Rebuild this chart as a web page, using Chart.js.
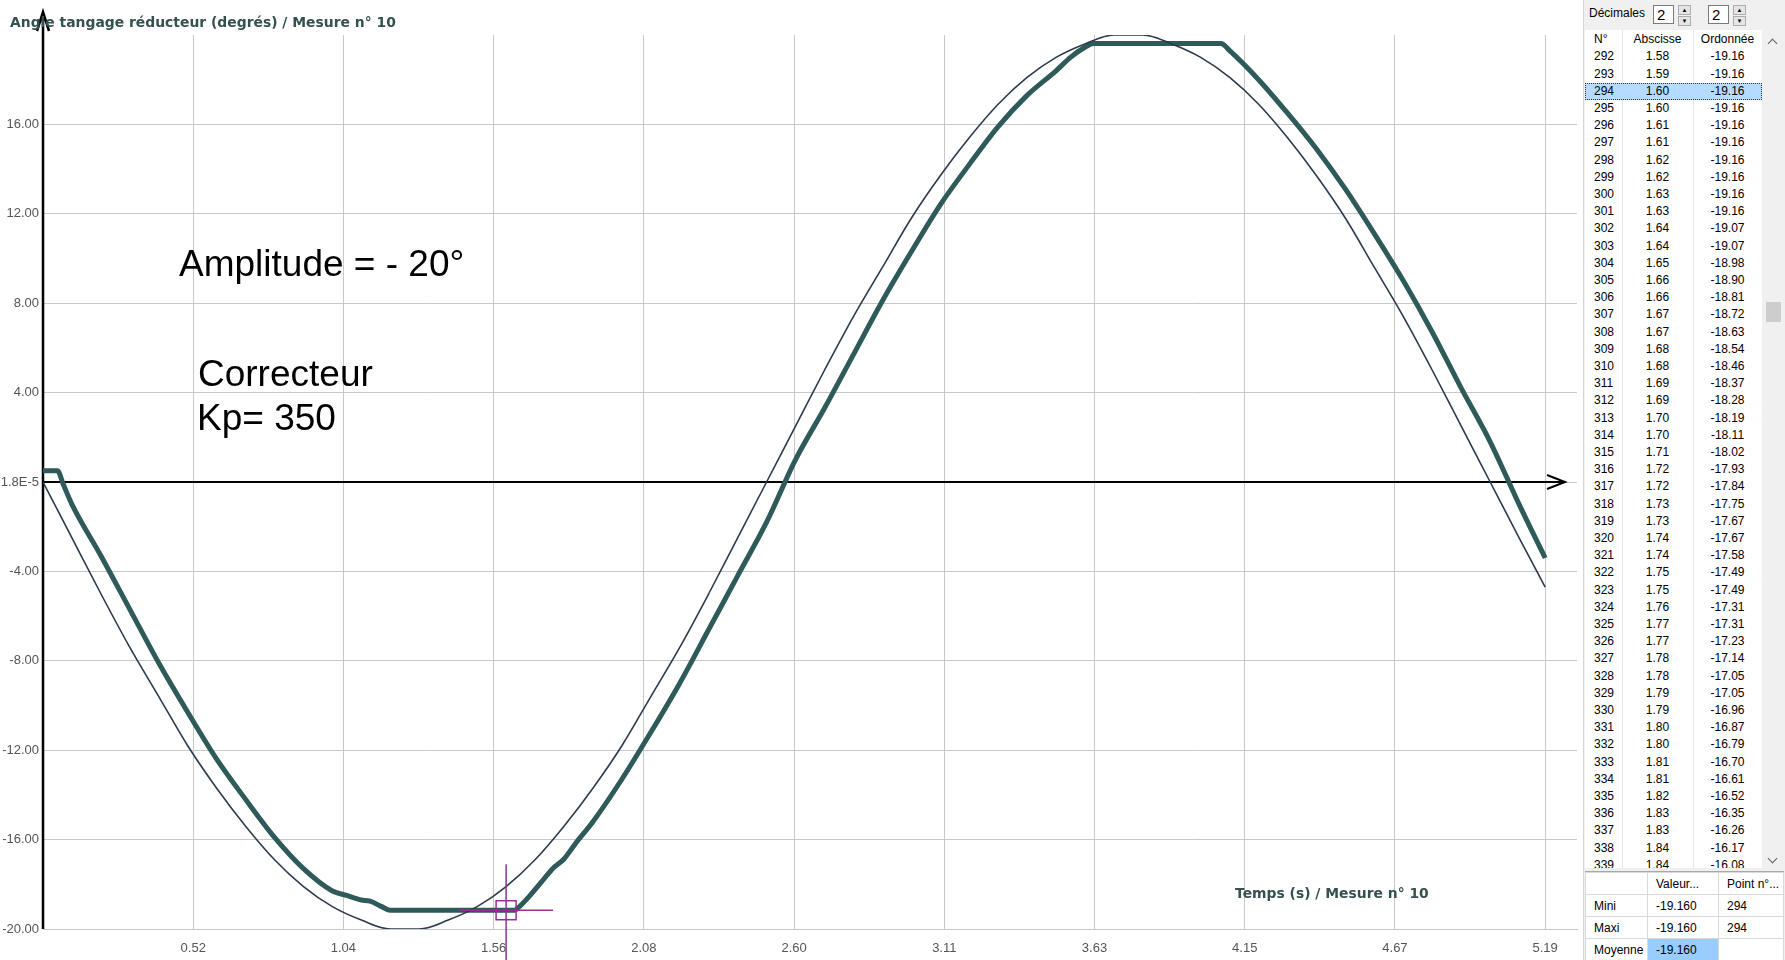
<!DOCTYPE html>
<html>
<head>
<meta charset="utf-8">
<script src="https://cdn.jsdelivr.net/npm/chart.js@4.4.1/dist/chart.umd.min.js"></script>
<style>
  body { margin: 0; background: #fff; overflow: hidden; }
  #wrap { position: relative; width: 1785px; height: 960px; }
  #courbe { position: absolute; left: 0; top: 0; }
  .txt { position: absolute; white-space: nowrap; }
  .titre { font: bold 13.9px "DejaVu Sans", sans-serif; color: #34504f; line-height: 18px; }
  .note { font: 37px "Liberation Sans", Arial, sans-serif; color: #000; line-height: 37px; }

  #panneau { position: absolute; left: 1583px; top: 0; width: 202px; height: 960px; background: #f0f0f0;
    border-left: 1px solid #d6d6d6; box-sizing: border-box;
    font-family: "Liberation Sans", Arial, sans-serif; font-size: 12px; color: #000; }
  .abs { position: absolute; }
  .spin { position: absolute; top: 5px; width: 21px; height: 19px; background: #fff; border: 1px solid #7a7a7a;
    box-sizing: border-box; font-size: 15px; line-height: 17px; padding-left: 3px; }
  .fleches { position: absolute; top: 5px; width: 13px; height: 19px; }
  .fleches div { height: 8px; margin-bottom: 1px; background: #e5e5e5; border: 1px solid #adadad;
    font-size: 6px; line-height: 8px; text-align: center; color: #000; }
  #liste { position: absolute; left: 1px; top: 30px; width: 198px; height: 838px; background: #fff; overflow: hidden; }
  .sep { position: absolute; top: 0; width: 1px; height: 838px; background: #e6e6e6; }
  .ligne { position: absolute; left: 0; width: 177px; height: 17.2px; line-height: 17.2px; }
  .ligne span { position: absolute; top: 0; }
  .cN { left: 9px; }
  .cX { left: 37px; width: 71px; text-align: center; }
  .cY { left: 108px; width: 69px; text-align: center; }
  .choisi { background: #b5dcff; outline: 1px dotted #333; outline-offset: -1px; }
  #ascenseur { position: absolute; left: 177px; top: 0; width: 21px; height: 838px; background: #f0f0f0; }
  .chevron { position: absolute; width: 6px; height: 6px; border-left: 1.5px solid #606060; border-top: 1.5px solid #606060; }
  #stats { position: absolute; left: 1px; top: 871px; width: 199px; height: 89px; background: #fff; border-top: 1px solid #a8a8a8; }
  #stats table { border-collapse: collapse; width: 199px; }
  #stats td { border: 1px solid #dadada; height: 21px; padding: 0 0 0 8px; white-space: nowrap; }
  #stats .bleu { background: #99ccff; }
</style>
</head>
<body>
<div id="wrap">
  <canvas id="courbe" width="1583" height="960"></canvas>

  <div class="txt titre" style="left:10px; top:13px;">Angle tangage réducteur (degrés) / Mesure n° 10</div>
  <div class="txt titre" style="left:1235px; top:884px;">Temps (s) / Mesure n° 10</div>
  <div class="txt note" style="left:179px; top:245px;">Amplitude = - 20°</div>
  <div class="txt note" style="left:198px; top:355px;">Correcteur</div>
  <div class="txt note" style="left:197px; top:399px;">Kp= 350</div>

  <div id="panneau">
    <div class="abs" style="left:5px; top:5px; line-height:16px;">Décimales</div>
    <div class="spin" style="left:69px;">2</div>
    <div class="fleches" style="left:94px;"><div>▲</div><div>▼</div></div>
    <div class="spin" style="left:124px;">2</div>
    <div class="fleches" style="left:149px;"><div>▲</div><div>▼</div></div>

    <div id="liste">
      <div class="sep" style="left:37px;"></div>
      <div class="sep" style="left:108px;"></div>
      <div class="ligne" style="top:1px;"><span class="cN">N°</span><span class="cX">Abscisse</span><span class="cY">Ordonnée</span></div>
      <div id="lignes"></div>
      <div id="ascenseur">
        <div class="chevron" style="left:7px; top:10px; transform:rotate(45deg);"></div>
        <div class="abs" style="left:4px; top:272px; width:15px; height:20px; background:#cdcdcd;"></div>
        <div class="chevron" style="left:7px; top:825px; transform:rotate(225deg);"></div>
      </div>
    </div>

    <div id="stats">
      <table>
        <tr><td style="width:53px;"></td><td style="width:62px;">Valeur...</td><td>Point n°...</td></tr>
        <tr><td>Mini</td><td>-19.160</td><td>294</td></tr>
        <tr><td>Maxi</td><td>-19.160</td><td>294</td></tr>
        <tr><td>Moyenne</td><td class="bleu">-19.160</td><td></td></tr>
      </table>
    </div>
  </div>
</div>

<script>
// consigne (courbe fine) : temps (s) et angle (degres)
const tConsigne = [0, 0.1, 0.2, 0.3, 0.4, 0.5, 0.6, 0.7, 0.8, 0.9, 1.0, 1.1, 1.2, 1.3, 1.4, 1.5, 1.6, 1.7, 1.8, 1.9,
  2.0, 2.1, 2.2, 2.3, 2.4, 2.5, 2.6, 2.7, 2.8, 2.9, 3.0, 3.1, 3.2, 3.3, 3.4, 3.5, 3.6, 3.7, 3.8, 3.9,
  4.0, 4.1, 4.2, 4.3, 4.4, 4.5, 4.6, 4.7, 4.8, 4.9, 5.0, 5.1, 5.19];
const angleConsigne = [0.0, -2.5, -5.0, -7.4, -9.6, -11.8, -13.7, -15.4, -16.9, -18.1, -19.0, -19.6, -20.0, -20.0,
  -19.6, -19.0, -18.1, -16.9, -15.4, -13.7, -11.8, -9.6, -7.4, -5.0, -2.5, 0.0, 2.5, 5.0, 7.4, 9.6,
  11.8, 13.7, 15.4, 16.9, 18.1, 19.0, 19.6, 20.0, 20.0, 19.6, 19.0, 18.1, 16.9, 15.4, 13.7, 11.8,
  9.6, 7.4, 5.0, 2.5, 0.0, -2.5, -4.7];

// mesure n° 10 (courbe epaisse)
const tMesure = [0, 0.05, 0.07, 0.1, 0.2, 0.3, 0.4, 0.5, 0.6, 0.7, 0.8, 0.9, 1.0, 1.05, 1.1, 1.13, 1.17, 1.2,
  1.4, 1.63, 1.64, 1.68, 1.72, 1.76, 1.80, 1.84, 1.9, 2.0, 2.1, 2.2, 2.3, 2.4, 2.5, 2.6, 2.7, 2.8, 2.9,
  3.0, 3.1, 3.2, 3.3, 3.4, 3.5, 3.55, 3.6, 3.63, 3.85, 4.07, 4.1, 4.2, 4.3, 4.4, 4.5, 4.6, 4.7, 4.8,
  4.9, 5.0, 5.1, 5.19];
const angleMesure = [0.5, 0.5, -0.1, -1.0, -3.3, -5.7, -8.1, -10.3, -12.4, -14.2, -15.9, -17.3, -18.3, -18.5,
  -18.7, -18.75, -19.0, -19.16, -19.16, -19.16, -19.07, -18.54, -17.93, -17.31, -16.87, -16.17, -15.2,
  -13.3, -11.2, -9.0, -6.6, -4.2, -1.8, 1.0, 3.3, 5.7, 8.1, 10.3, 12.4, 14.2, 15.9, 17.3, 18.4, 19.0,
  19.45, 19.62, 19.62, 19.62, 19.3, 18.0, 16.5, 14.9, 13.1, 11.1, 9.0, 6.7, 4.2, 1.8, -1.0, -3.4];

const xTicks = [0.519, 1.038, 1.557, 2.076, 2.595, 3.114, 3.633, 4.152, 4.671, 5.19];
const xTickLabels = ['0.52', '1.04', '1.56', '2.08', '2.60', '3.11', '3.63', '4.15', '4.67', '5.19'];
const yTicks = [-20, -16, -12, -8, -4, 0, 4, 8, 12, 16];
const yTickLabels = ['-20.00', '-16.00', '-12.00', '-8.00', '-4.00', '1.8E-5', '4.00', '8.00', '12.00', '16.00'];

// curseur (point n° 294)
const curseur = [1.60, -19.16];

// tableau de droite
const premierPoint = 292;
const pointChoisi = 294;
const tabAbscisse = [1.58, 1.59, 1.60, 1.60, 1.61, 1.61, 1.62, 1.62, 1.63, 1.63, 1.64, 1.64, 1.65, 1.66, 1.66, 1.67,
  1.67, 1.68, 1.68, 1.69, 1.69, 1.70, 1.70, 1.71, 1.72, 1.72, 1.73, 1.73, 1.74, 1.74, 1.75, 1.75, 1.76,
  1.77, 1.77, 1.78, 1.78, 1.79, 1.79, 1.80, 1.80, 1.81, 1.81, 1.82, 1.83, 1.83, 1.84, 1.84];
const tabOrdonnee = [-19.16, -19.16, -19.16, -19.16, -19.16, -19.16, -19.16, -19.16, -19.16, -19.16, -19.07, -19.07,
  -18.98, -18.90, -18.81, -18.72, -18.63, -18.54, -18.46, -18.37, -18.28, -18.19, -18.11, -18.02, -17.93,
  -17.84, -17.75, -17.67, -17.67, -17.58, -17.49, -17.49, -17.31, -17.31, -17.23, -17.14, -17.05, -17.05,
  -16.96, -16.87, -16.79, -16.70, -16.61, -16.52, -16.35, -16.26, -16.17, -16.08];

let html = '';
tabAbscisse.forEach((x, i) => {
  const n = premierPoint + i;
  html += '<div class="ligne' + (n === pointChoisi ? ' choisi' : '') + '" style="top:' + (18.4 + 17.2 * i) + 'px;">' +
    '<span class="cN">' + n + '</span><span class="cX">' + x.toFixed(2) + '</span>' +
    '<span class="cY">' + tabOrdonnee[i].toFixed(2) + '</span></div>';
});
document.getElementById('lignes').innerHTML = html;

const tickFont = { family: '"Liberation Sans", Arial, sans-serif', size: 13 };

// fleches des axes, dessinees sous les courbes
const flechesAxes = {
  id: 'flechesAxes',
  beforeDatasetsDraw(chart) {
    const { ctx, chartArea: a, scales: { x, y } } = chart;
    const x0 = x.getPixelForValue(0);
    const y0 = y.getPixelForValue(0);
    ctx.save();
    ctx.strokeStyle = '#000';
    ctx.lineWidth = 2;
    ctx.beginPath();
    ctx.moveTo(x0, y0);
    ctx.lineTo(a.right - 12, y0);
    ctx.moveTo(a.right - 30, y0 - 7);
    ctx.lineTo(a.right - 12, y0);
    ctx.lineTo(a.right - 30, y0 + 7);
    ctx.stroke();
    ctx.lineWidth = 2.5;
    ctx.beginPath();
    ctx.moveTo(x0, a.bottom);
    ctx.lineTo(x0, a.top - 23);
    ctx.moveTo(x0 - 6, a.top - 4);
    ctx.lineTo(x0, a.top - 23);
    ctx.lineTo(x0 + 6, a.top - 4);
    ctx.stroke();
    ctx.restore();
  }
};

// curseur violet
const croixCurseur = {
  id: 'croixCurseur',
  afterDraw(chart) {
    const { ctx, scales: { x, y } } = chart;
    const px = x.getPixelForValue(curseur[0]);
    const py = y.getPixelForValue(curseur[1]);
    ctx.save();
    ctx.strokeStyle = '#9a2c9a';
    ctx.lineWidth = 1.5;
    ctx.beginPath();
    ctx.moveTo(px - 47, py);
    ctx.lineTo(px + 47, py);
    ctx.moveTo(px, py - 46);
    ctx.lineTo(px, chart.height);
    ctx.stroke();
    ctx.strokeRect(px - 10, py - 9.5, 20, 19);
    ctx.restore();
  }
};

new Chart(document.getElementById('courbe'), {
  type: 'line',
  data: {
    datasets: [{
      label: 'Consigne',
      data: tConsigne.map((t, i) => ({ x: t, y: angleConsigne[i] })),
      borderColor: '#2d3a4e',
      borderWidth: 1.6,
      pointRadius: 0,
      cubicInterpolationMode: 'monotone' },
    {
      label: 'Mesure n° 10',
      data: tMesure.map((t, i) => ({ x: t, y: angleMesure[i] })),
      borderColor: '#2f5a5a',
      borderWidth: 5,
      pointRadius: 0,
      cubicInterpolationMode: 'monotone' }]},
  options: {
    responsive: false,
    animation: false,
    layout: { padding: { top: 35, right: 6, left: 0, bottom: 0 } },
    plugins: { legend: { display: false }, tooltip: { enabled: false } },
    scales: {
      x: {
        type: 'linear', min: 0, max: 5.30,
        afterBuildTicks: ax => { ax.ticks = xTicks.map(v => ({ value: v })); },
        afterFit: ax => { ax.height = 31; },
        grid: { color: '#c8c8c8', drawTicks: false },
        border: { color: '#c8c8c8' },
        ticks: { padding: 12, maxRotation: 0, autoSkip: false, color: '#555', font: tickFont,
          callback: (v, i) => xTickLabels[i] } },
      y: {
        type: 'linear', min: -20, max: 20,
        afterBuildTicks: ax => { ax.ticks = yTicks.map(v => ({ value: v })); },
        afterFit: ax => { ax.width = 43; },
        grid: { color: '#c8c8c8', drawTicks: false },
        border: { display: false },
        ticks: { padding: 4, color: '#555', font: tickFont,
          callback: (v, i) => yTickLabels[i] } }}},
  plugins: [flechesAxes, croixCurseur]
});
</script>
</body>
</html>
